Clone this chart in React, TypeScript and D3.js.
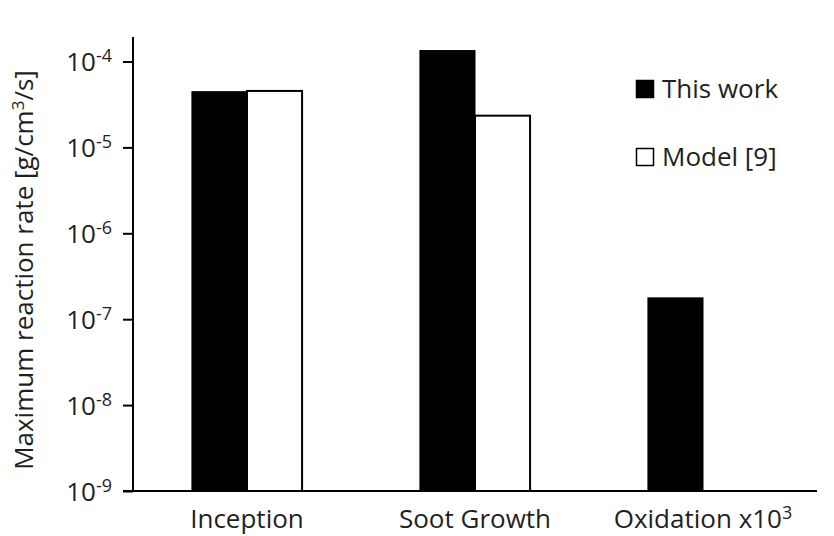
import { useEffect, useRef } from "react"
import * as d3 from "d3"

// categories (superscript part kept separately)
const categories = ["Inception", "Soot Growth", "Oxidation x10"]
const categorySup = ["", "", "3"]
const seriesNames = ["This work", "Model [9]"]
const thisWork = [4.45e-5, 1.34e-4, 1.77e-7]
const model = [4.54e-5, 2.34e-5, null]
const tickExponents = [-4, -5, -6, -7, -8, -9]

const W = 834
const H = 536
const FONT = "'Open Sans', 'Noto Sans', sans-serif"
const TEXT = "#1f1f1f"

const App = () => {
  const svgRef = useRef<SVGSVGElement>(null)

  useEffect(() => {
    const svg = d3.select(svgRef.current)
    svg.selectAll("*").remove()

    const left = 133
    const right = 817
    const top = 37
    const bottom = 491

    const y = d3.scaleLog().domain([1e-9, Math.pow(10, -3.715)]).range([bottom, top])
    const x0 = d3.scaleBand<string>().domain(categories).range([left, right]).padding(0)
    const x1 = d3
      .scaleBand<string>()
      .domain(seriesNames)
      .range([0, x0.bandwidth()])
      .paddingInner(0)
      .paddingOuter(1.07)

    const rows = categories.map((c, i) => ({ cat: c, vals: [thisWork[i], model[i]] }))

    // bars
    const groups = svg
      .append("g")
      .selectAll("g")
      .data(rows)
      .join("g")
      .attr("transform", (d) => `translate(${x0(d.cat)},0)`)

    groups
      .selectAll("rect")
      .data((d) => d.vals.map((v, j) => ({ v, name: seriesNames[j], j })).filter((e) => e.v != null))
      .join("rect")
      .attr("x", (d) => x1(d.name)!)
      .attr("width", x1.bandwidth())
      .attr("y", (d) => y(d.v as number))
      .attr("height", (d) => bottom - y(d.v as number))
      .attr("fill", (d) => (d.j === 0 ? "#000" : "#fff"))
      .attr("stroke", "#000")
      .attr("stroke-width", (d) => (d.j === 0 ? 1 : 2))

    // y axis
    const yAxis = svg
      .append("g")
      .attr("transform", `translate(${left},0)`)
      .call(
        d3
          .axisLeft(y)
          .tickValues(tickExponents.map((e) => Math.pow(10, e)))
          .tickSize(10)
          .tickSizeOuter(0)
          .tickFormat(() => "")
      )
    yAxis.select(".domain").remove()
    yAxis.selectAll(".tick line").attr("stroke", "#000").attr("stroke-width", 2)
    yAxis
      .selectAll<SVGTextElement, number>(".tick text")
      .attr("x", -21)
      .attr("dy", "0.35em")
      .style("font-family", FONT)
      .style("font-size", "26px")
      .style("fill", TEXT)
      .each(function (d) {
        const t = d3.select(this)
        t.append("tspan").text("10")
        t.append("tspan")
          .attr("dy", "-9")
          .style("font-size", "18px")
          .text(String(Math.round(Math.log10(d))))
      })

    svg
      .append("line")
      .attr("x1", left)
      .attr("x2", left)
      .attr("y1", top)
      .attr("y2", bottom)
      .attr("stroke", "#000")
      .attr("stroke-width", 2)

    // x axis line
    svg
      .append("line")
      .attr("x1", left - 10)
      .attr("x2", right)
      .attr("y1", bottom)
      .attr("y2", bottom)
      .attr("stroke", "#000")
      .attr("stroke-width", 2)

    // category labels
    svg
      .append("g")
      .selectAll("text")
      .data(categories)
      .join("text")
      .attr("x", (d) => x0(d)! + x0.bandwidth() / 2)
      .attr("y", 528)
      .attr("text-anchor", "middle")
      .style("font-family", FONT)
      .style("font-size", "26px")
      .style("fill", TEXT)
      .each(function (d, i) {
        const t = d3.select(this)
        t.append("tspan").text(d)
        if (categorySup[i]) {
          t.append("tspan").attr("dy", "-9").style("font-size", "18px").text(categorySup[i])
        }
      })

    // y axis title
    const title = svg
      .append("text")
      .attr("transform", `translate(33,270) rotate(-90)`)
      .attr("text-anchor", "middle")
      .style("font-family", FONT)
      .style("font-size", "26px")
      .style("fill", TEXT)
    title.append("tspan").text("Maximum reaction rate [g/cm")
    title.append("tspan").attr("dy", "-9").style("font-size", "17px").text("3")
    title.append("tspan").attr("dy", "9").text("/s]")

    // legend
    const legend = svg
      .append("g")
      .selectAll("g")
      .data(seriesNames)
      .join("g")
      .attr("transform", (d, i) => `translate(636,${80 + i * 68})`)
    legend
      .append("rect")
      .attr("width", 17)
      .attr("height", 17)
      .attr("x", 0.5)
      .attr("y", 0.5)
      .attr("fill", (d, i) => (i === 0 ? "#000" : "#fff"))
      .attr("stroke", "#000")
      .attr("stroke-width", 1.5)
    legend
      .append("text")
      .attr("x", 26)
      .attr("y", 18)
      .style("font-family", FONT)
      .style("font-size", "26px")
      .style("fill", TEXT)
      .text((d) => d)
  }, [])

  return (
    <svg
      ref={svgRef}
      width={W}
      height={H}
      style={{ position: "absolute", left: 0, top: 0, background: "#fff" }}
    ></svg>
  )
}

export default App
